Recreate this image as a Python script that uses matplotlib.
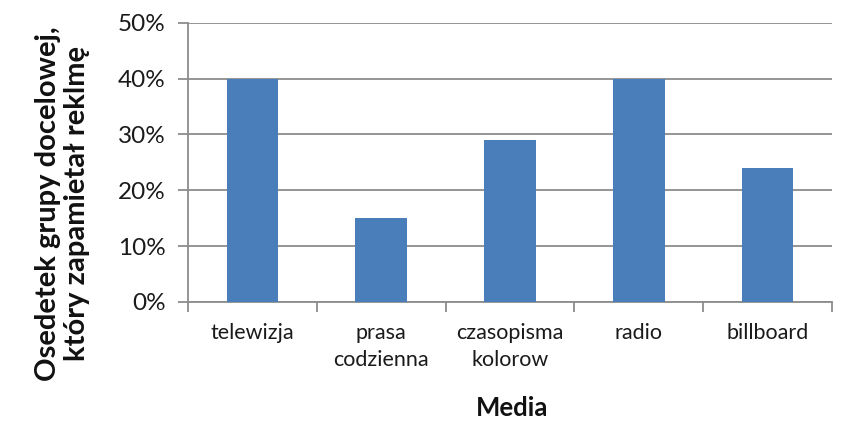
import matplotlib

matplotlib.use("Agg")
import matplotlib.pyplot as plt
from matplotlib.ticker import FuncFormatter

categories = ["telewizja", "prasa\ncodzienna", "czasopisma\nkolorow", "radio", "billboard"]
shares = [0.40, 0.15, 0.29, 0.40, 0.24]
y_ticks = [0.0, 0.1, 0.2, 0.3, 0.4, 0.5]

plt.rcParams["font.family"] = ["Lato", "DejaVu Sans"]

fig = plt.figure(figsize=(8.56, 4.48), dpi=100)
ax = fig.add_axes([0.2196, 0.326, 0.7524, 0.623])

positions = range(len(categories))
ax.bar(positions, shares, width=0.4, color="#4a7ebb", zorder=3)

ax.set_xlim(-0.5, len(categories) - 0.5)
ax.set_ylim(0, 0.5)
ax.set_yticks(y_ticks)
ax.yaxis.set_major_formatter(FuncFormatter(lambda v, _: f"{v:.0%}"))
ax.tick_params(axis="y", labelsize=17.5, colors="#8c8c8c", labelcolor="#1a1a1a",
               length=7, width=1.3, pad=9)

# category labels centred under bars, ticks sit on the boundaries
ax.set_xticks([p + 0.5 for p in range(-1, len(categories))])
ax.set_xticklabels([])
ax.tick_params(axis="x", colors="#8c8c8c", length=7, width=1.3)
for p, label in zip(positions, categories):
    ax.annotate(label, xy=(p, 0), xycoords=("data", "axes fraction"),
                xytext=(0, -15), textcoords="offset points",
                ha="center", va="top", fontsize=15.5, color="#1a1a1a",
                linespacing=1.45)

ax.grid(axis="y", color="#8c8c8c", linewidth=1.3, zorder=0)
for side in ("top", "right"):
    ax.spines[side].set_visible(False)
for side in ("left", "bottom"):
    ax.spines[side].set_color("#8c8c8c")
    ax.spines[side].set_linewidth(1.3)

fig.text(0.073, 0.545, "Osedetek grupy docelowej,\nktóry zapamietał reklmę",
         rotation=90, ha="center", va="center", fontsize=21, fontweight="bold",
         color="#111111", linespacing=1.1)
fig.text(0.598, 0.089, "Media", ha="center", va="center", fontsize=18.5,
         fontweight="bold", color="#111111")

fig.savefig("out.png", dpi=100)
